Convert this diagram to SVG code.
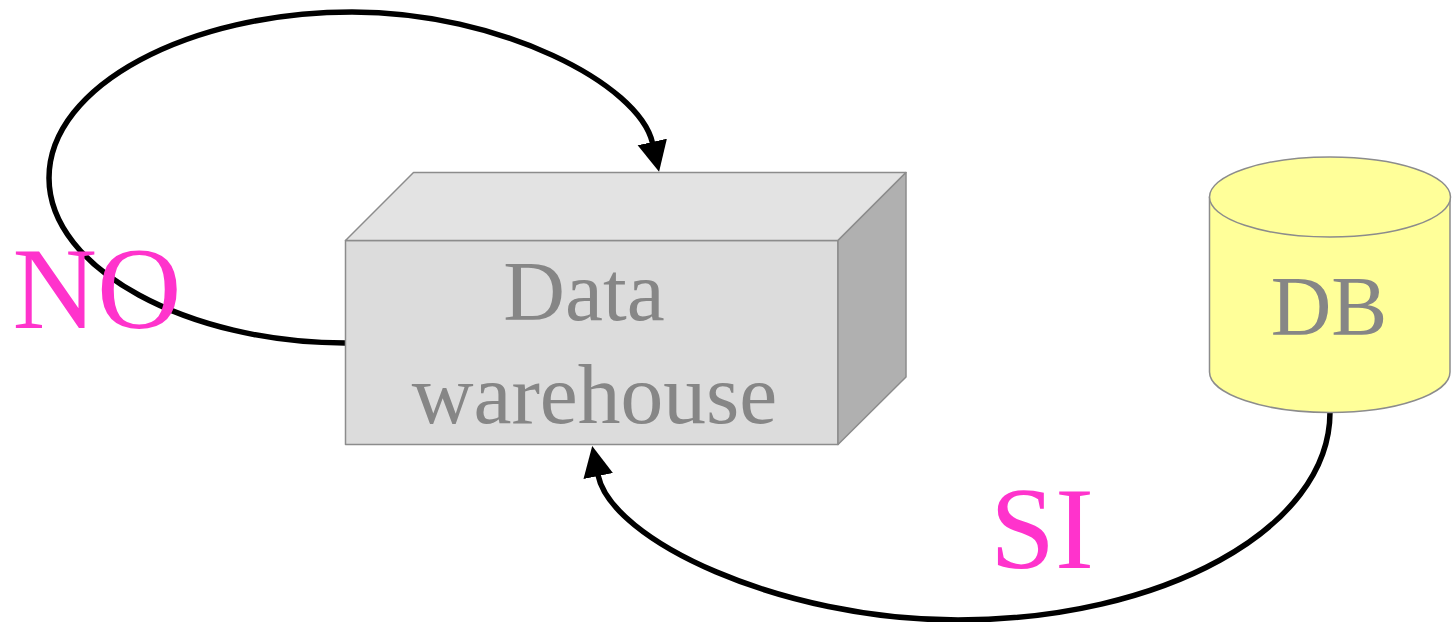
<svg xmlns="http://www.w3.org/2000/svg" width="1453" height="622" viewBox="0 0 1453 622">
<style>
.s{stroke:#8c8c8c;stroke-width:1.5;stroke-linejoin:round}
.t{font-family:"Liberation Serif",serif;fill:#868686;text-anchor:middle}
.l{font-family:"Liberation Serif",serif;fill:#ff33cc;text-anchor:middle;font-size:117px}
.c{fill:none;stroke:#000;stroke-width:5.500}
</style>
<defs><marker id="a" markerUnits="userSpaceOnUse" markerWidth="34" markerHeight="34" refX="1" refY="16" orient="auto"><path d="M0 1L30.500 16L0 31z" fill="#000"/></marker></defs>
<rect width="1453" height="622" fill="#fff"/>
<g id="connectors">
<path class="c" d="M345 343C190 343 49 270 49 178C49 85 190 12 352 12C500 12 639 84 652.500 143" marker-end="url(#a)"/>
<path class="c" d="M1330 412C1330 530 1160 620 958 620C780 620 611 540 598 475" marker-end="url(#a)"/>
</g>
<g id="warehouse">
<path class="s" fill="#dcdcdc" d="M345.500 240.500H838V444.500H345.500z"/>
<path class="s" fill="#e3e3e3" d="M345.500 240.500L413.500 172.500H906L838 240.500z"/>
<path class="s" fill="#b0b0b0" d="M838 240.500L906 172.500V377L838 444.500z"/>
<text class="t" font-size="85.500" x="584" y="320">Data</text>
<text class="t" font-size="85.500" x="594.500" y="423">warehouse</text>
</g>
<g id="db">
<path class="s" fill="#ffff99" d="M1209.500 197V372C1209.500 394 1264 412.500 1330 412.500C1396 412.500 1450 394 1450 372V197z"/>
<ellipse class="s" fill="#ffff99" cx="1330" cy="197" rx="120.500" ry="40"/>
<text class="t" font-size="84" x="1329" y="335">DB</text>
</g>
<g id="labels">
<text class="l" x="97" y="328">NO</text>
<text class="l" x="1042" y="568">SI</text>
</g>
</svg>
